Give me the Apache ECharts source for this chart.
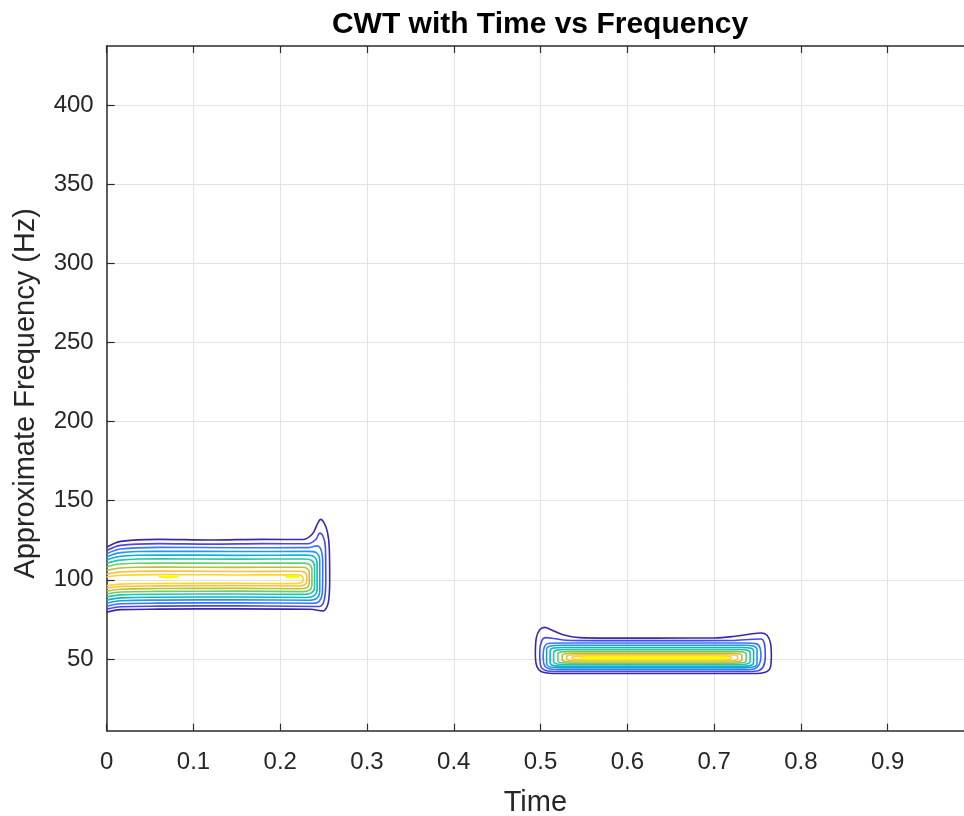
<!DOCTYPE html>
<html>
<head>
<meta charset="utf-8">
<script src="https://cdn.jsdelivr.net/npm/echarts@6/dist/echarts.min.js"></script>
<style>
html,body{margin:0;padding:0;background:#fff;}
#chart{width:964px;height:816px;}
</style>
</head>
<body>
<div id="chart"></div>
<script>
// ---- Data (time in s, frequency in Hz) ----
var xTicks = [0, 0.1, 0.2, 0.3, 0.4, 0.5, 0.6, 0.7, 0.8, 0.9];
var yTicks = [50, 100, 150, 200, 250, 300, 350, 400];

// Contour level colours (parula), outermost -> innermost, last = peak islands
var levelColors = ['#3E26A8', '#4749EC', '#3B74FE', '#2199E8', '#09B4D1',
                   '#24C6A5', '#6BCC6B', '#BBC137', '#F8C03A', '#FCD52B', '#F9FB0E'];

// Component around 100 Hz, 0 - 0.25 s (open contours touching t = 0)
var band100Contours = [
  [[0,120.5],[0.016,124.3],[0.06,125.6],[0.12,125.2],[0.18,125.6],[0.226,125.5],[0.237,129],[0.243,135.5],[0.2465,138.2],[0.2505,136],[0.2545,130],[0.2565,120],[0.257,100],[0.2555,86],[0.249,80.4],[0.235,81.4],[0.15,81.7],[0.06,81.5],[0.016,81.2],[0,79.6]],
  [[0,118.5],[0.016,121.8],[0.06,122.9],[0.12,122.6],[0.18,122.9],[0.232,122.8],[0.241,125.5],[0.2455,129.5],[0.249,128],[0.252,121],[0.2525,100],[0.251,88],[0.245,83.2],[0.15,83.6],[0.06,83.4],[0.016,83],[0,81.5]],
  [[0,116.5],[0.016,119.5],[0.06,120.5],[0.15,120.3],[0.232,120.4],[0.242,121.5],[0.247,119],[0.249,110],[0.2485,92],[0.245,86.5],[0.238,85.2],[0.15,85.5],[0.06,85.3],[0.016,84.9],[0,83.4]],
  [[0,114.5],[0.016,117.2],[0.06,118.1],[0.15,117.9],[0.232,118],[0.2415,117.2],[0.2455,112],[0.2455,93],[0.242,88.3],[0.233,87.1],[0.15,87.4],[0.06,87.2],[0.016,86.8],[0,85.3]],
  [[0,112.5],[0.016,114.9],[0.06,115.7],[0.15,115.5],[0.23,115.6],[0.239,114.6],[0.2425,110],[0.2425,94],[0.239,90],[0.23,88.9],[0.15,89.2],[0.06,89.0],[0.016,88.6],[0,87.2]],
  [[0,110.5],[0.016,112.5],[0.06,113.3],[0.15,113.1],[0.228,113.2],[0.236,112.3],[0.2395,108.5],[0.2395,95],[0.236,91.8],[0.228,90.8],[0.15,91.1],[0.06,90.9],[0.016,90.5],[0,89.2]],
  [[0,108.3],[0.016,110],[0.06,110.7],[0.15,110.5],[0.226,110.6],[0.2335,109.8],[0.2365,106.5],[0.2365,96.5],[0.2335,93.5],[0.226,92.6],[0.15,92.9],[0.06,92.7],[0.016,92.3],[0,91.1]],
  [[0,106],[0.016,107.5],[0.06,108.1],[0.15,107.9],[0.224,108],[0.231,107.3],[0.2335,104.5],[0.2335,98],[0.231,95.3],[0.224,94.4],[0.15,94.7],[0.06,94.5],[0.016,94.1],[0,92.9]],
  [[0,103.7],[0.016,105],[0.06,105.5],[0.15,105.3],[0.222,105.4],[0.228,104.8],[0.2305,102.5],[0.2305,99],[0.228,96.9],[0.222,96.1],[0.15,96.4],[0.06,96.2],[0.016,95.8],[0,94.7]],
  [[0,101.8],[0.016,102.9],[0.06,103.3],[0.15,103.1],[0.219,103.2],[0.2245,102.6],[0.2265,100.8],[0.2265,99.6],[0.2245,98.3],[0.219,97.6],[0.15,97.9],[0.06,97.7],[0.016,97.3],[0,96.3]]
];
var band100Peaks = [
  [[0.06,101.9],[0.071,102.4],[0.082,101.9],[0.071,101.4],[0.06,101.9]],
  [[0.206,101.9],[0.214,102.4],[0.222,101.9],[0.214,101.4],[0.206,101.9]]
];

// Component around 50 Hz, 0.5 - 0.75 s (closed contours)
var band50Contours = [
  [[0.63,63.2],[0.70,63.3],[0.722,64.2],[0.742,65.8],[0.754,66.4],[0.761,65],[0.765,60],[0.766,52],[0.765,45],[0.759,41.6],[0.745,40.8],[0.63,40.8],[0.52,40.8],[0.503,41.6],[0.496,45],[0.494,53],[0.495,63],[0.499,68.5],[0.505,70],[0.512,68.5],[0.525,65.5],[0.545,63.5],[0.58,63.2],[0.63,63.2]],
  [[0.63,61.6],[0.72,61.7],[0.745,62.5],[0.754,62.6],[0.758,59.5],[0.759,52],[0.757,45.5],[0.751,42.6],[0.74,42.1],[0.63,42.1],[0.52,42.1],[0.506,42.8],[0.5,46],[0.499,54],[0.501,61],[0.506,63.5],[0.515,63],[0.53,61.8],[0.56,61.6],[0.63,61.6]],
  [[0.63,60.1],[0.735,60.1],[0.748,59.7],[0.753,57],[0.754,52],[0.752,46.5],[0.746,43.7],[0.735,43.2],[0.63,43.2],[0.525,43.2],[0.51,43.8],[0.504,46.5],[0.503,52],[0.504,57],[0.509,59.8],[0.525,60.1],[0.63,60.1]],
  [[0.63,58.7],[0.735,58.7],[0.745,58.2],[0.7495,56],[0.7495,47.2],[0.745,44.9],[0.735,44.4],[0.63,44.4],[0.525,44.4],[0.5115,44.9],[0.507,47.2],[0.507,56],[0.5115,58.2],[0.525,58.7],[0.63,58.7]],
  [[0.63,57.3],[0.732,57.3],[0.7415,56.9],[0.7455,55],[0.7455,47.8],[0.7415,45.8],[0.732,45.4],[0.63,45.4],[0.527,45.4],[0.515,45.8],[0.511,47.8],[0.511,55],[0.515,56.9],[0.527,57.3],[0.63,57.3]],
  [[0.63,56],[0.729,56],[0.7375,55.6],[0.7415,54],[0.7415,48.4],[0.7375,46.8],[0.729,46.4],[0.63,46.4],[0.53,46.4],[0.519,46.8],[0.515,48.4],[0.515,54],[0.519,55.6],[0.53,56],[0.63,56]],
  [[0.63,54.8],[0.725,54.8],[0.733,54.5],[0.737,53.2],[0.737,48.9],[0.733,47.6],[0.725,47.3],[0.63,47.3],[0.533,47.3],[0.524,47.6],[0.52,48.9],[0.52,53.2],[0.524,54.5],[0.533,54.8],[0.63,54.8]],
  [[0.63,53.7],[0.72,53.7],[0.728,53.4],[0.732,52.4],[0.732,49.4],[0.728,48.4],[0.72,48.1],[0.63,48.1],[0.537,48.1],[0.529,48.4],[0.525,49.4],[0.525,52.4],[0.529,53.4],[0.537,53.7],[0.63,53.7]],
  [[0.63,52.7],[0.716,52.7],[0.723,52.5],[0.727,51.6],[0.727,50],[0.723,49.1],[0.716,48.9],[0.63,48.9],[0.541,48.9],[0.534,49.1],[0.53,50],[0.53,51.6],[0.534,52.5],[0.541,52.7],[0.63,52.7]],
  [[0.63,51.8],[0.71,51.8],[0.717,51.6],[0.72,50.75],[0.717,49.9],[0.71,49.7],[0.63,49.7],[0.546,49.7],[0.539,49.9],[0.536,50.75],[0.539,51.6],[0.546,51.8],[0.63,51.8]]
];
var band50Peaks = [
  [[0.545,50.7],[0.56,51.2],[0.70,51.2],[0.715,50.7],[0.70,50.2],[0.56,50.2],[0.545,50.7]]
];

// ---- Build series ----
var series = [];
function addContour(pts, color) {
  series.push({
    type: 'line',
    data: pts,
    showSymbol: false,
    symbol: 'none',
    smooth: 0.35,
    silent: true,
    clip: true,
    lineStyle: { color: color, width: 1.6 },
    xAxisIndex: 0,
    yAxisIndex: 0
  });
}
band100Contours.forEach(function (c, i) { addContour(c, levelColors[i]); });
band50Contours.forEach(function (c, i) { addContour(c, levelColors[i]); });
band100Peaks.forEach(function (c) { addContour(c, levelColors[10]); });
band50Peaks.forEach(function (c) { addContour(c, levelColors[10]); });

var axisColor = '#2b2b2b';
var font = 'Liberation Sans, Arial, Helvetica, sans-serif';
// visible part of the time axis (the frame continues past the right edge of the picture)
var xMin = 0, xMax = 0.988;

var chart = echarts.init(document.getElementById('chart'), null, { renderer: 'canvas' });
chart.setOption({
  animation: false,
  backgroundColor: '#ffffff',
  title: {
    text: 'CWT with Time vs Frequency',
    left: 535,
    textAlign: 'center',
    top: 5,
    textStyle: { fontFamily: font, fontWeight: 'bold', fontSize: 30, color: '#000000' }
  },
  grid: { left: 106.7, right: 0, top: 46, bottom: 85.3, containLabel: false, outerBoundsMode: 'none' },
  xAxis: [{
    type: 'value',
    position: 'bottom',
    min: xMin, max: xMax,
    axisTick: { show: true, inside: true, length: 7, lineStyle: { color: axisColor, width: 1.2 }, customValues: xTicks },
    axisLabel: {
      show: true, margin: 20, fontFamily: font, fontSize: 24, color: '#262626',
      customValues: xTicks,
      formatter: function (v) { return String(Math.round(v * 10) / 10); }
    },
    name: 'Time',
    nameLocation: 'middle',
    nameGap: 58,
    nameTextStyle: { fontFamily: font, fontSize: 29, color: '#262626' },
    axisLine: { show: true, onZero: false, lineStyle: { color: axisColor, width: 1.5 } },
    splitLine: { show: true, lineStyle: { color: '#e3e3e3', width: 1 } }
  }, {
    type: 'value',
    position: 'top',
    min: xMin, max: xMax,
    axisLine: { show: true, onZero: false, lineStyle: { color: axisColor, width: 1.5 } },
    axisTick: { show: true, inside: true, length: 7, lineStyle: { color: axisColor, width: 1.2 }, customValues: xTicks },
    axisLabel: { show: false, customValues: xTicks },
    splitLine: { show: false }
  }],
  yAxis: [{
    type: 'value',
    position: 'left',
    min: 4.7, max: 437.3,
    name: 'Approximate Frequency (Hz)',
    nameLocation: 'middle',
    nameGap: 66,
    nameTextStyle: { fontFamily: font, fontSize: 29, color: '#262626', padding: [0, 10, 0, 0] },
    axisLine: { show: true, onZero: false, lineStyle: { color: axisColor, width: 1.5 } },
    axisTick: { show: true, inside: true, length: 8, lineStyle: { color: axisColor, width: 1.2 }, customValues: yTicks },
    axisLabel: { show: true, margin: 13, fontFamily: font, fontSize: 24, color: '#262626', customValues: yTicks, padding: [8, 0, 0, 0] },
    splitLine: { show: true, lineStyle: { color: '#e3e3e3', width: 1 } }
  }],
  series: series
});
</script>
</body>
</html>
